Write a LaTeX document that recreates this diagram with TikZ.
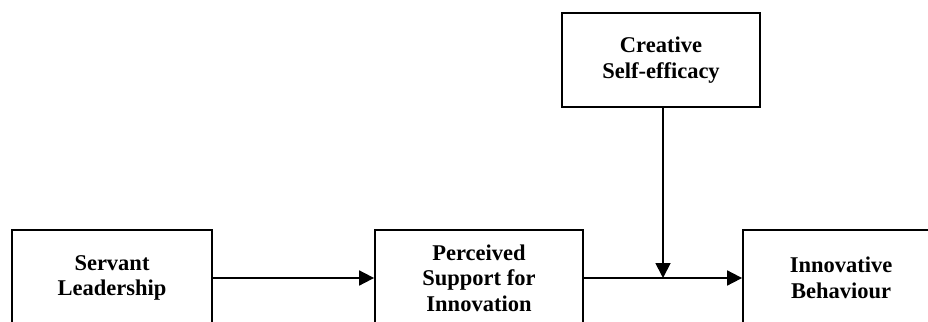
\documentclass[tikz,border=0pt]{standalone}
\usepackage{fontspec}
\setmainfont{Liberation Serif}
\usetikzlibrary{arrows.meta}
\begin{document}
\begin{tikzpicture}[x=1pt,y=-1pt,
  box/.style={draw,line width=1.8pt,inner sep=0pt,align=center,
    font=\fontsize{22.5}{25.5}\selectfont\bfseries},
  arr/.style={line width=1.8pt,-{Triangle[length=15pt,width=15pt]}}]
\path[use as bounding box,clip] (0,0) rectangle (928,321);
\fill[white] (0,0) rectangle (928,321);
\node[box,minimum width=200pt,minimum height=96pt] (sl) at (112,278) {Servant\\Leadership};
\node[box,minimum width=208pt,minimum height=96pt] (psi) at (479,278) {Perceived\\Support for\\Innovation};
\node[box,minimum width=196pt,minimum height=96pt] (ib) at (841,278) {Innovative\\Behaviour};
\node[box,minimum width=198pt,minimum height=94pt] (cse) at (661,60) {Creative\\Self-efficacy};
\coordinate (m) at (663,278);
\draw[arr] (sl.east) -- (psi.west);
\draw[arr] (psi.east) -- (ib.west);
\draw[arr] (cse.south -| m) -- (m);
\end{tikzpicture}
\end{document}
